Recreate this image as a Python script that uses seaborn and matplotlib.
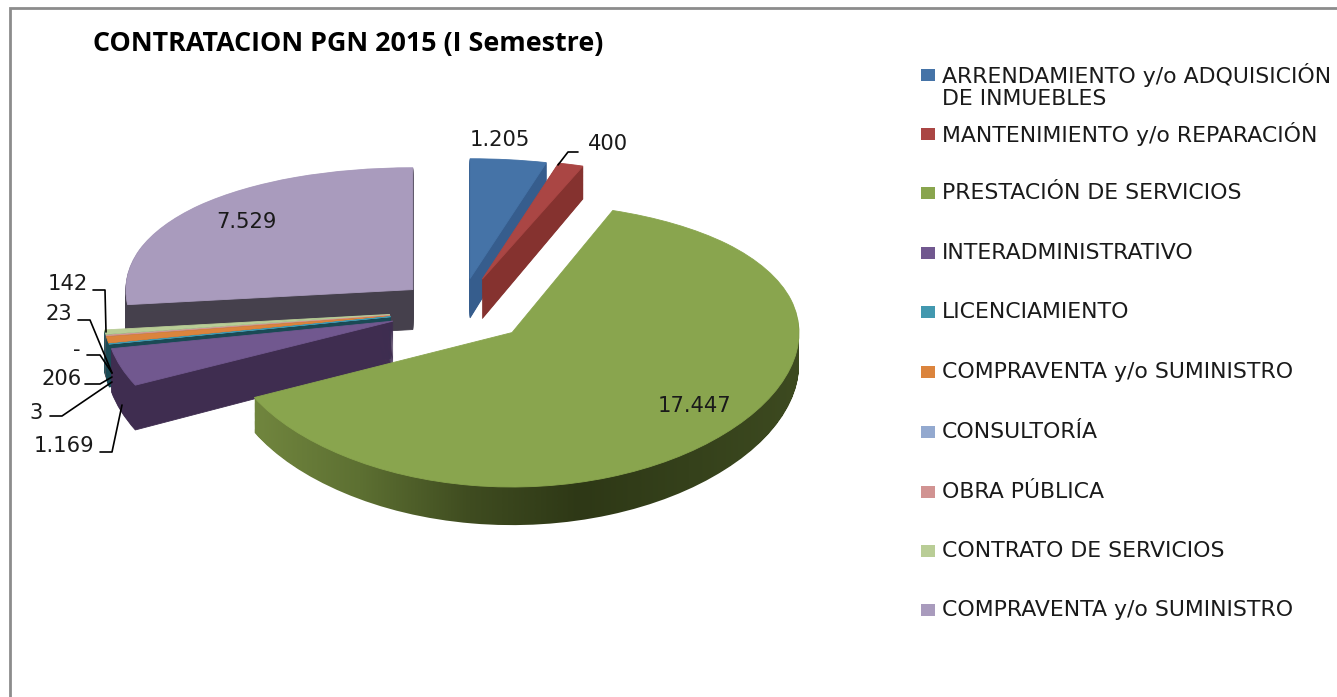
import numpy as np
import matplotlib
matplotlib.use('Agg')
import matplotlib.pyplot as plt
from matplotlib.patches import Rectangle
from matplotlib.path import Path
import seaborn as sns

# data
categories = ['ARRENDAMIENTO y/o ADQUISICIÓN\nDE INMUEBLES', 'MANTENIMIENTO y/o REPARACIÓN',
              'PRESTACIÓN DE SERVICIOS', 'INTERADMINISTRATIVO', 'LICENCIAMIENTO',
              'COMPRAVENTA y/o SUMINISTRO', 'CONSULTORÍA', 'OBRA PÚBLICA',
              'CONTRATO DE SERVICIOS', 'COMPRAVENTA y/o SUMINISTRO']
values = [1205, 400, 17447, 1169, 3, 206, 0, 23, 142, 7529]
value_labels = ['1.205', '400', '17.447', '1.169', '3', '206', '-', '23', '142', '7.529']
title = 'CONTRATACION PGN 2015 (I Semestre)'

# design
top_colors = ['#4573a7', '#aa4644', '#89a54e', '#71588f', '#4298af',
              '#db843d', '#93a9cf', '#d19392', '#b9cd96', '#a99bbd']
side_colors = ['#365d8d', '#85322f', '#4a5a28', '#3f2d50', '#1a4a55',
               '#1a4a55', '#5f7390', '#8f5f5e', '#1a4a55', '#45404c']
z_order = [3, 4, 30, 20, 12, 10, 9, 9, 9, 2]
green_side = sns.blend_palette(['#72873f', '#5d7032', '#3f4c20', '#2e3816', '#35411b', '#3d4a20'], as_cmap=True)

explode = [0.235, 0.24, 0.24, 0.25, 0.25, 0.25, 0.25, 0.25, 0.25, 0.225]
text_color = '#1a1a1a'
legend_size = 15.8
label_size = 15.2

# pixel geometry of the pie
cx, cy, rx, ry = 461, 310, 287, 138
depth_px = 40
green_depth_px = 31
tilt = 0.09  # back of the pie is squeezed, front is stretched


def forward(y):
    return y - tilt * y ** 2


def inverse(v):
    v = np.minimum(v, 1 / (4 * tilt))
    return (1 - np.sqrt(1 - 4 * tilt * v)) / (2 * tilt)


sns.set_theme(style='white')
plt.rcParams['font.family'] = ['DejaVu Sans']

fig = plt.figure(figsize=(13.37, 6.97), dpi=100, facecolor='white')
ax = fig.add_axes([0, 0, 1, 1])

# side walls, one pie per layer from the bottom up
green_paths = []
for px in np.arange(depth_px, 0, -1):
    wedges, _ = ax.pie(values, explode=explode, colors=side_colors, startangle=90, counterclock=False,
                       center=(0, -px / ry), radius=1, normalize=True,
                       wedgeprops={'linewidth': 0.6})
    for w, z, c in zip(wedges, z_order, side_colors):
        w.set_edgecolor(c)
        w.set_zorder(z)
    wedges[2].set_visible(False)
    if px <= green_depth_px:
        green_paths.append(wedges[2].get_path().transformed(wedges[2].get_patch_transform()))

# top faces
tops, _ = ax.pie(values, explode=explode, colors=top_colors, startangle=90, counterclock=False,
                 radius=1, normalize=True, wedgeprops={'linewidth': 0.6})
for w, z, c in zip(tops, z_order, top_colors):
    w.set_edgecolor(c)
    w.set_zorder(z + 1)

# green wall has a left to right gradient
x_lo, x_hi = (248 - cx) / rx, (800 - cx) / rx
im = ax.imshow(np.linspace(0, 1, 256).reshape(1, -1), cmap=green_side, aspect='auto',
               extent=(x_lo, x_hi, -2.2, 1.0), zorder=30, interpolation='bilinear')
im.set_clip_path(Path.make_compound_path(*green_paths), ax.transData)

ax.set_aspect('auto')
ax.set_yscale('function', functions=(forward, inverse))
ax.set_xlim(-cx / rx, (1337 - cx) / rx)
ax.set_ylim(inverse(np.array((cy - 697) / ry)), inverse(np.array(cy / ry)))
ax.axis('off')

# overlay in pixels: frame, title, labels, leaders, legend
ov = fig.add_axes([0, 0, 1, 1], facecolor='none')
ov.set_xlim(0, 1337)
ov.set_ylim(697, 0)
ov.axis('off')

ov.plot([10, 10, 1337], [697, 8, 8], color='#8c8c8c', lw=2, solid_joinstyle='miter')
ov.text(93, 44, title, fontsize=19.4, fontweight='bold', family='Open Sans',
        color='black', va='center', ha='left')

label_pos = [(500, 140), (608, 144), (695, 406), (64, 446), (36, 413),
             (62, 379), (77, 350), (59, 314), (68, 284), (246, 222)]
for s, (x, y) in zip(value_labels, label_pos):
    ov.text(x, y, s, fontsize=label_size, color=text_color, ha='center', va='center')

leaders = [([558, 568, 578], [165, 152, 152]),
           ([93, 105, 106], [290, 290, 332]),
           ([78, 90, 112], [320, 320, 373]),
           ([87, 100, 112], [355, 355, 373]),
           ([85, 100, 112], [384, 384, 377]),
           ([50, 62, 112], [416, 416, 382]),
           ([100, 112, 122], [452, 452, 405])]
for xs, ys in leaders:
    ov.plot(xs, ys, color='black', lw=1.2, zorder=40)

legend_y = [75, 134, 193, 253, 312, 372, 432, 492, 551, 610]
for name, color, y in zip(categories, top_colors, legend_y):
    ov.add_patch(Rectangle((921, y - 6), 14, 12, facecolor=color, edgecolor='none'))
    first, *rest = name.split('\n')
    ov.text(942, y, first, fontsize=legend_size, color=text_color, va='center', ha='left')
    if rest:
        ov.text(942, y + 24, rest[0], fontsize=legend_size, color=text_color, va='center', ha='left')

fig.savefig('out.png', dpi=100, facecolor='white')
